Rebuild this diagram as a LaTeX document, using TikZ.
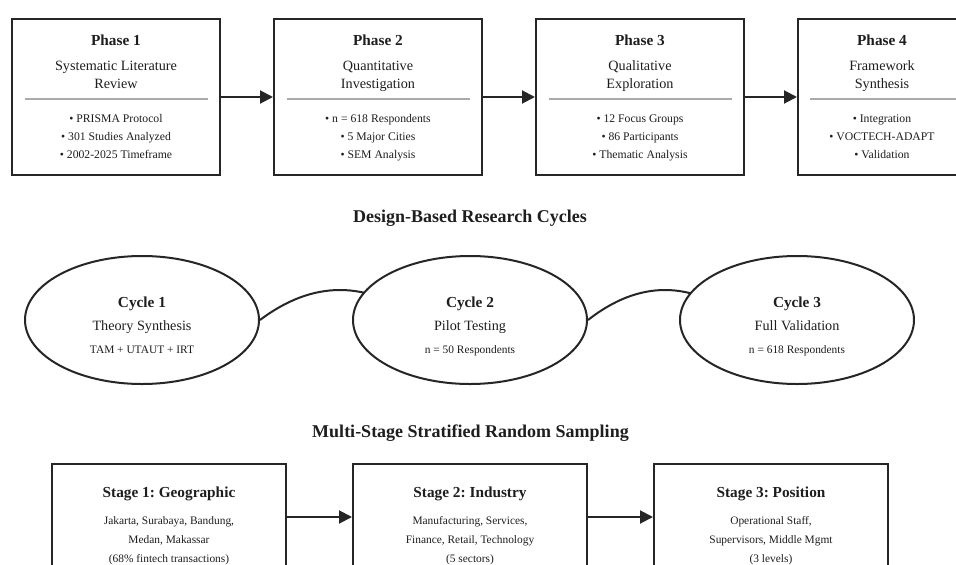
\documentclass[tikz,border=0pt]{standalone}
\usepackage{fontspec}
\setmainfont{Liberation Serif}
\usetikzlibrary{shapes.geometric,arrows.meta,calc,backgrounds}
\frenchspacing
\definecolor{ink}{HTML}{1E1E1E}
\definecolor{edge}{HTML}{262626}
\definecolor{rulegrey}{HTML}{AAAAAA}
\tikzset{
  phasebox/.style={draw=edge,line width=2pt,fill=white,minimum width=208pt,minimum height=156pt,inner sep=0pt},
  stagebox/.style={draw=edge,line width=2pt,fill=white,minimum width=234pt,minimum height=106pt,inner sep=0pt},
  cyclebox/.style={ellipse,draw=edge,line width=2pt,fill=white,minimum width=234pt,minimum height=128pt,inner sep=0pt},
  txt/.style={text=ink,anchor=base,inner sep=0pt},
  head/.style={txt,font=\bfseries\fontsize{15.3}{18}\selectfont},
  sub/.style={txt,font=\fontsize{14.2}{18}\selectfont},
  item/.style={txt,font=\fontsize{11.7}{18}\selectfont},
  small/.style={txt,font=\fontsize{11.4}{18}\selectfont},
  section/.style={txt,font=\bfseries\fontsize{18}{22}\selectfont},
  arr/.style={draw=edge,line width=2pt,-{Triangle[length=13pt,width=13pt]}},
  link/.style={draw=edge,line width=2pt},
  sepline/.style={draw=rulegrey,line width=1.6pt}
}
\begin{document}
\begin{tikzpicture}[x=1pt,y=-1pt]
\useasboundingbox (0,0) rectangle (956,565);
\clip (0,0) rectangle (956,565);

% ---- research phases ----
\node[phasebox] (p1) at (116,97) {};
\node[phasebox] (p2) at (378,97) {};
\node[phasebox] (p3) at (640,97) {};
\node[phasebox] (p4) at (902,97) {};
\draw[arr] (p1.east) -- (p2.west);
\draw[arr] (p2.east) -- (p3.west);
\draw[arr] (p3.east) -- (p4.west);

\draw[sepline] ($(p1.center)+(-91.5,2)$) -- ($(p1.center)+(91.5,2)$);
\draw[sepline] ($(p2.center)+(-91.5,2)$) -- ($(p2.center)+(91.5,2)$);
\draw[sepline] ($(p3.center)+(-91.5,2)$) -- ($(p3.center)+(91.5,2)$);
\draw[sepline] ($(p4.center)+(-92,2)$) -- ($(p4.center)+(93,2)$);

\foreach \n/\x/\t/\a/\b/\i/\j/\k in {
  1/116/Phase 1/Systematic Literature/Review/PRISMA Protocol/301 Studies Analyzed/2002-2025 Timeframe,
  2/378/Phase 2/Quantitative/Investigation/n = 618 Respondents/5 Major Cities/SEM Analysis,
  3/640/Phase 3/Qualitative/Exploration/12 Focus Groups/86 Participants/Thematic Analysis,
  4/882/Phase 4/Framework/Synthesis/Integration/VOCTECH-ADAPT/Validation}{
  \node[head] (p\n-h) at (\x,45.5) {\t};
  \node[sub] (p\n-a) at (\x,70) {\a};
  \node[sub] (p\n-b) at (\x,88) {\b};
  \node[item] (p\n-i) at (\x,122) {• \i};
  \node[item] (p\n-j) at (\x,140) {• \j};
  \node[item] (p\n-k) at (\x,158) {• \k};
}

% ---- design-based research cycles ----
\node[section] (dbr) at (470,222) {Design-Based Research Cycles};

\node[cyclebox] (c1) at (142,320) {};
\node[cyclebox] (c2) at (470,320) {};
\node[cyclebox] (c3) at (797,320) {};
\coordinate (c2in) at ($(c2.center)+(-50,0)$);
\coordinate (c3in) at ($(c3.center)+(-55,0)$);
\begin{scope}[on background layer]
  \draw[link] (c1.east) .. controls ($(c1.east)+(53,-40)$) and ($(c2in)+(-53,-40)$) .. (c2in);
  \draw[link] (c2.east) .. controls ($(c2.east)+(51,-40)$) and ($(c3in)+(-51,-40)$) .. (c3in);
\end{scope}

\foreach \n/\x/\t/\a/\b in {
  1/142/Cycle 1/Theory Synthesis/TAM + UTAUT + IRT,
  2/470/Cycle 2/Pilot Testing/n = 50 Respondents,
  3/797/Cycle 3/Full Validation/n = 618 Respondents}{
  \node[head] (c\n-h) at (\x,307) {\t};
  \node[sub] (c\n-a) at (\x,330.5) {\a};
  \node[small] (c\n-b) at (\x,353) {\b};
}

% ---- multi-stage sampling ----
\node[section] (mss) at (470.5,437) {Multi-Stage Stratified Random Sampling};

\node[stagebox] (s1) at (169,517) {};
\node[stagebox] (s2) at (470,517) {};
\node[stagebox] (s3) at (771,517) {};
\draw[arr] (s1.east) -- (s2.west);
\draw[arr] (s2.east) -- (s3.west);

\foreach \n/\x/\t/\a/\b/\c in {
  1/169/Stage 1: Geographic/{Jakarta, Surabaya, Bandung,}/{Medan, Makassar}/(68\% fintech transactions),
  2/470/Stage 2: Industry/{Manufacturing, Services,}/{Finance, Retail, Technology}/(5 sectors),
  3/771/Stage 3: Position/{Operational Staff,}/{Supervisors, Middle Mgmt}/(3 levels)}{
  \node[head] (s\n-h) at (\x,497) {\t};
  \node[small] (s\n-a) at (\x,524) {\a};
  \node[small] (s\n-b) at (\x,543.5) {\b};
  \node[small] (s\n-c) at (\x,562) {\c};
}
\end{tikzpicture}
\end{document}
